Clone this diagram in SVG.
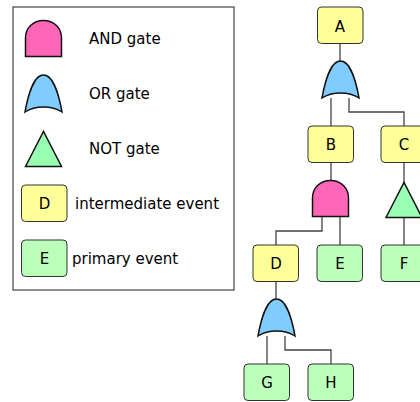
<svg xmlns="http://www.w3.org/2000/svg" width="420" height="402" viewBox="0 0 420 402">
<style>
text{font-family:"DejaVu Sans",sans-serif;font-size:15px;fill:#000}
.c{text-anchor:middle}
.i{fill:#ffff99;stroke:#333;stroke-width:1}
.p{fill:#bbffbb;stroke:#333;stroke-width:1}
.l{fill:none;stroke:#444;stroke-width:1.3}
.g{stroke:#111;stroke-width:1.5;stroke-linejoin:miter}
</style>
<defs>
<path id="or" class="g" fill="#80ccff" d="M0 37C3 20 9 0 18.500 0C28 0 34 20 37 37C31 33 25 32 18.500 32C12 32 6 33 0 37Z"/>
<path id="and" class="g" fill="#ff66b8" d="M0.500 36.500V18C0.500 8 8 0.500 18.500 0.500C29 0.500 36.500 8 36.500 18V36.500Z"/>
<path id="not" class="g" fill="#99ffb3" d="M0.500 35.500L18.500 0.500L36.500 35.500Z"/>
<rect id="ib" class="i" width="45.500" height="36.500" rx="4"/>
<rect id="pb" class="p" width="45.500" height="36.500" rx="4"/>
</defs>
<g id="legend">
<rect x="13" y="7" width="221" height="283" fill="#fff" stroke="#444" stroke-width="1.2"/>
<use href="#and" x="25" y="20"/>
<use href="#or" x="25" y="75"/>
<use href="#not" x="25" y="131"/>
<use href="#ib" x="21.500" y="185"/>
<use href="#pb" x="21.500" y="240"/>
<text x="89" y="44">AND gate</text>
<text x="89" y="99">OR gate</text>
<text x="89" y="154">NOT gate</text>
<text class="c" x="44.500" y="209">D</text>
<text x="75" y="209">intermediate event</text>
<text class="c" x="44.500" y="264">E</text>
<text x="72" y="264">primary event</text>
</g>
<g id="connectors">
<path class="l" d="M340 44V61M331 98V126M349 98V112H404V126M331 162V180M404 162V182M322 217V231H276V245M340 217V245M404 217V245M276 281V299M267 336V364M285 336V350H331V364"/>
</g>
<g id="node-A"><use href="#ib" x="317.500" y="7"/><text class="c" x="340" y="32">A</text></g>
<g id="gate-or-1"><use href="#or" x="322" y="61"/></g>
<g id="node-B"><use href="#ib" x="308" y="126"/><text class="c" x="331" y="150">B</text></g>
<g id="node-C"><use href="#ib" x="381" y="126"/><text class="c" x="404" y="150">C</text></g>
<g id="gate-and"><use href="#and" x="312" y="180"/></g>
<g id="gate-not"><use href="#not" x="385.500" y="182"/></g>
<g id="node-D"><use href="#ib" x="253" y="245"/><text class="c" x="276" y="269">D</text></g>
<g id="node-E"><use href="#pb" x="317" y="245"/><text class="c" x="340" y="269">E</text></g>
<g id="node-F"><use href="#pb" x="381" y="245"/><text class="c" x="404" y="269">F</text></g>
<g id="gate-or-2"><use href="#or" x="258" y="299"/></g>
<g id="node-G"><use href="#pb" x="244" y="364"/><text class="c" x="267" y="388">G</text></g>
<g id="node-H"><use href="#pb" x="308" y="364"/><text class="c" x="331" y="388">H</text></g>
</svg>
